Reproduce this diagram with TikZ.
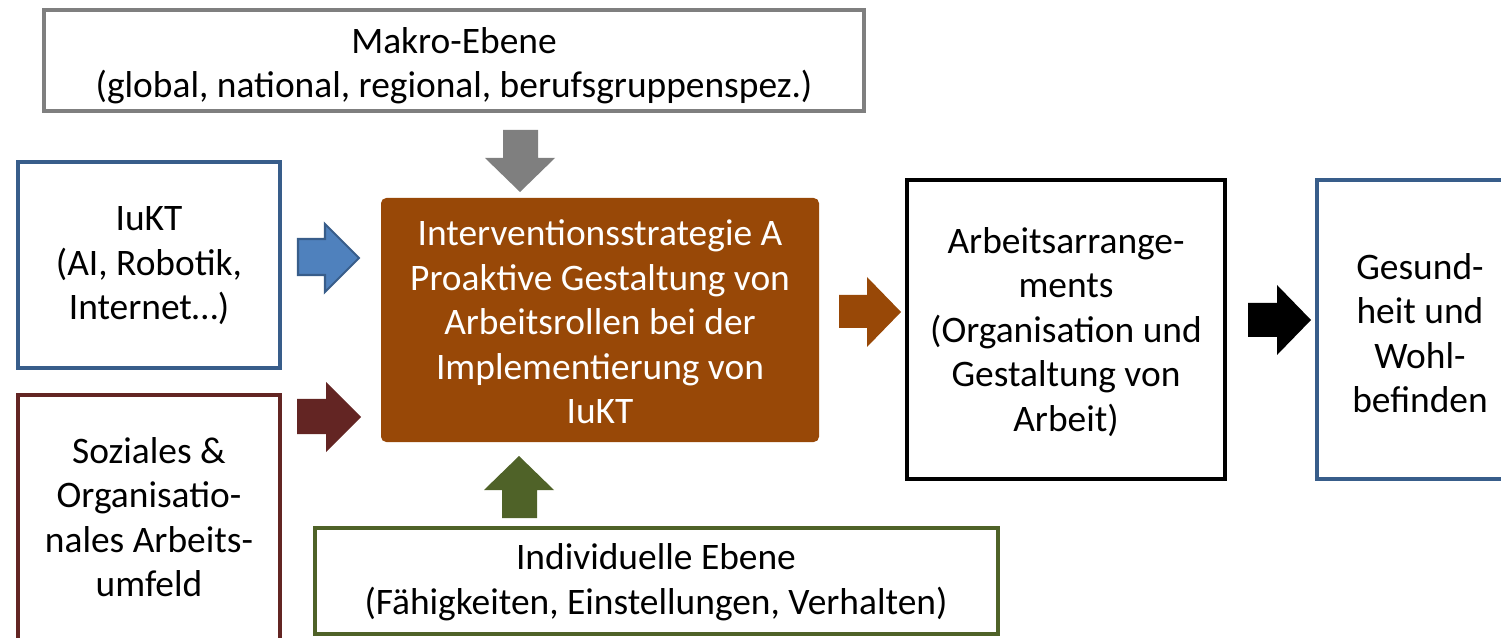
\documentclass[tikz,border=0pt]{standalone}
\usepackage{fontspec}
\setmainfont{Carlito}
\definecolor{mgray}{HTML}{7F7F7F}
\definecolor{mblue}{HTML}{4F81BD}
\definecolor{mbluedark}{HTML}{385D8A}
\definecolor{mred}{HTML}{632523}
\definecolor{mgreen}{HTML}{4F6228}
\definecolor{mbrown}{HTML}{984807}
\begin{document}
\begin{tikzpicture}[x=0.02cm,y=-0.02cm,
  box/.style={draw,line width=2.2pt,fill=white},
  lbl/.style={align=center,font=\fontsize{21.3}{25.3}\selectfont,inner sep=0pt},
  arr/.style={line join=miter}]
\useasboundingbox (0,0) rectangle (1501,638);
% boxes
\draw[box,draw=mgray] (44,10) rectangle (864,111);
\draw[box,draw=mbluedark] (18,162) rectangle (280,368);
\draw[box,draw=mred] (18,395) rectangle (280,660);
\fill[mbrown,rounded corners=3pt] (381,198) rectangle (819,442);
\draw[box,draw=black,line width=2.8pt] (907,180) rectangle (1225,479);
\draw[box,draw=mbluedark] (1317,180) rectangle (1530,479);
\draw[box,draw=mgreen] (315,528) rectangle (998,634);
% labels
\node[lbl] (makro) at (454,66) {Makro-Ebene\\(global, national, regional, berufsgruppenspez.)};
\node[lbl] (iukt) at (149,266) {IuKT\\(AI, Robotik,\\Internet…)};
\node[lbl] (soz) at (149,517) {Soziales \&\\Organisatio-\\nales Arbeits-\\umfeld};
\node[lbl,text=white] (mid) at (600,322) {Interventionsstrategie A\\Proaktive Gestaltung von\\Arbeitsrollen bei der\\Implementierung von\\IuKT};
\node[lbl] (arb) at (1066,332) {Arbeitsarrange-\\ments\\(Organisation und\\Gestaltung von\\Arbeit)};
\node[lbl] (ges) at (1420,333) {Gesund-\\heit und\\Wohl-\\befinden};
\node[lbl] (ind) at (656,582) {Individuelle Ebene\\(Fähigkeiten, Einstellungen, Verhalten)};
% block arrows
\fill[mgray] (503,130) -- (538,130) -- (538,158) -- (555,158) -- (520,192) -- (485,158) -- (503,158) -- cycle;
\filldraw[fill=mblue,draw=mbluedark,line width=1.2pt] (298,239) -- (325,239) -- (325,224) -- (359,258) -- (325,292) -- (325,275) -- (298,275) -- cycle;
\fill[mred] (297,399) -- (326,399) -- (326,382) -- (361,417) -- (326,452) -- (326,434) -- (297,434) -- cycle;
\fill[mgreen] (502,518) -- (502,490) -- (484,490) -- (519,456) -- (554,490) -- (537,490) -- (537,518) -- cycle;
\fill[mbrown] (839,295) -- (867,295) -- (867,277) -- (901,312) -- (867,347) -- (867,328) -- (839,328) -- cycle;
\fill[black] (1248,303) -- (1277,303) -- (1277,285) -- (1311,320) -- (1277,355) -- (1277,337) -- (1248,337) -- cycle;
\end{tikzpicture}
\end{document}
